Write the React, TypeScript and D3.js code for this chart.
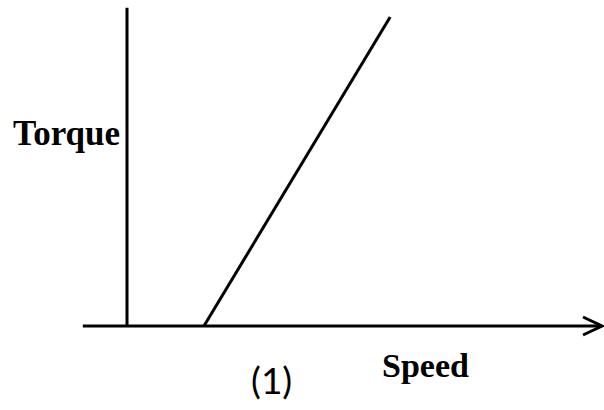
import React from 'react';
import * as d3 from 'd3';

// characteristic: torque rises linearly from a no-load speed
const speedPoints = [1.62, 5.54];
const torquePoints = [0, 10];
const speedAxisExtent = [-0.93, 10];
const torqueAxisExtent = [0, 10.3];
const xLabel = 'Speed';
const yLabel = 'Torque';
const caption = '(1)';

const W = 604;
const H = 410;

const App = () => {
  const x = d3.scaleLinear().domain([0, 10]).range([127, 602]);
  const y = d3.scaleLinear().domain([0, 10]).range([326, 17]);

  const line = d3.line<number>()
    .x((_, i) => x(speedPoints[i]))
    .y(d => y(d));

  const tipX = x(speedAxisExtent[1]);
  const y0 = y(0);

  return (
    <svg
      width={W}
      height={H}
      style={{ position: 'absolute', left: 0, top: 0, background: '#fff' }}
    >
      {/* torque axis */}
      <line
        x1={x(0)} x2={x(0)}
        y1={y(torqueAxisExtent[0])} y2={y(torqueAxisExtent[1])}
        stroke="#000" strokeWidth={3}
      />
      {/* speed axis with open arrow */}
      <line
        x1={x(speedAxisExtent[0])} x2={tipX - 1}
        y1={y0} y2={y0}
        stroke="#000" strokeWidth={3}
      />
      <path
        d={`M${tipX - 19},${y0 - 9}L${tipX},${y0}L${tipX - 19},${y0 + 9}`}
        fill="none" stroke="#000" strokeWidth={3} strokeLinejoin="miter"
      />
      <path d={line(torquePoints) || ''} fill="none" stroke="#000" strokeWidth={3} />

      <text x={13} y={145} fontFamily="'Liberation Serif', serif" fontWeight="bold" fontSize={35}>
        {yLabel}
      </text>
      <text x={382} y={377} fontFamily="'Liberation Serif', serif" fontWeight="bold" fontSize={34}>
        {xLabel}
      </text>
      <text x={251} y={394} fontFamily="Lato, sans-serif" fontSize={37}>
        {caption}
      </text>
    </svg>
  );
};

export default App;
